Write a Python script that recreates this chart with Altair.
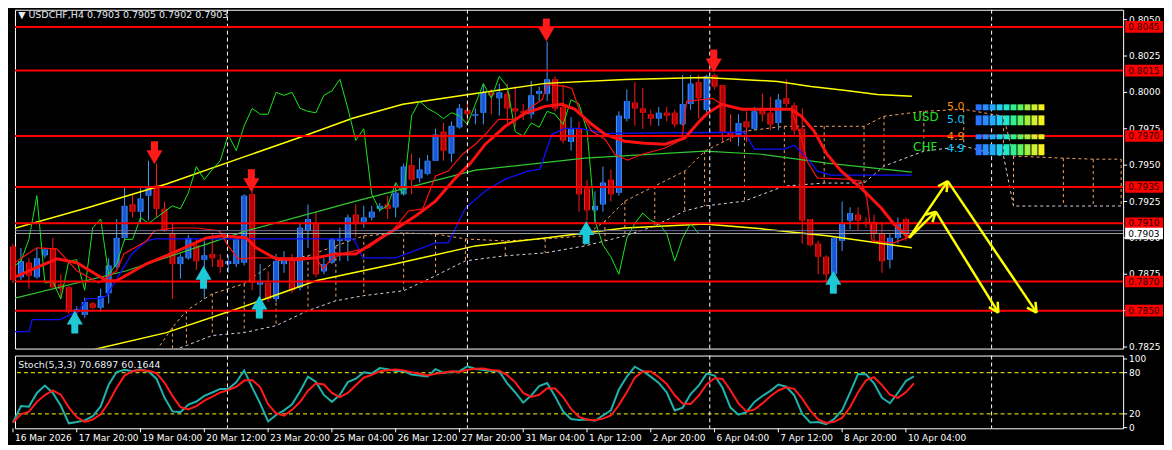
import math
import altair as alt
import pandas as pd

W = 1112
H = 340
HS = 73
X0 = 0.25
XMAX = X0 + W / 8
YTOP = 0.80568
YBOT = YTOP - H / 14600
PX = 1 / 14600          # price per pixel in the main panel
SBOT = -1.0
STOP = 105.0
FONT = "DejaVu Sans"

# ---------------- candles (USDCHF H4) ----------------
opens = [.7894,.7873,.7883,.7873,.7888,.7893,.7868,.7866,.7849,.7847,.7855,.7852,.7862,.7880,.7900,.7923,.7918,.7929,.7936,.7920,
         .7903,.7882,.7886,.7895,.7885,.7889,.7885,.7882,.7882,.7883,.7930,.7868,.7869,.7858,.7882,.7884,.7866,.7905,.7910,.7877,
         .7883,.7898,.7898,.7916,.7911,.7914,.7920,.7923,.7921,.7930,.7950,.7941,.7944,.7953,.7973,.7958,.7976,.7988,.7984,.7986,
         .8000,.7996,.7999,.7989,.7987,.7985,.7999,.7999,.8009,.7990,.7966,.7975,.7934,.7919,.7923,.7940,.7931,.7982,.7993,.7989,
         .7985,.7982,.7986,.7986,.7978,.7992,.8007,.7988,.8012,.8005,.7972,.7971,.7980,.7975,.7988,.7986,.7979,.7996,.7991,.7975,
         .7913,.7896,.7887,.7875,.7898,.7912,.7916,.7911,.7911,.7903,.7885,.7900,.7913,.7903]
highs = [.7896,.7893,.7886,.7893,.7893,.7900,.7875,.7867,.7853,.7859,.7856,.7865,.7886,.7913,.7935,.7930,.7934,.7953,.7951,.7925,
         .7910,.7889,.7902,.7899,.7898,.7903,.7889,.7888,.7900,.7930,.7934,.7882,.7877,.7889,.7891,.7889,.7910,.7923,.7918,.7886,
         .7900,.7907,.7916,.7923,.7922,.7922,.7924,.7929,.7937,.7951,.7958,.7955,.7957,.7975,.7979,.7980,.7992,.7993,.7989,.8006,
         .8002,.8006,.8006,.8004,.7992,.8008,.8004,.8035,.8011,.8005,.7983,.7980,.7940,.7932,.7949,.7947,.7987,.8002,.8007,.8003,
         .7988,.7990,.7990,.7988,.8012,.8012,.8012,.8012,.8013,.8005,.7985,.7985,.7987,.7990,.7999,.7997,.7999,.8009,.7993,.7989,
         .7913,.7898,.7888,.7900,.7925,.7921,.7921,.7914,.7916,.7911,.7903,.7914,.7914,.7905]
lows = [.7869,.7871,.7865,.7872,.7886,.7866,.7859,.7848,.7846,.7845,.7851,.7849,.7855,.7879,.7898,.7914,.7910,.7912,.7914,.7904,
        .7858,.7872,.7885,.7878,.7858,.7880,.7876,.7876,.7880,.7881,.7864,.7857,.7856,.7856,.7876,.7862,.7864,.7893,.7873,.7875,
        .7882,.7884,.7884,.7901,.7907,.7912,.7918,.7913,.7914,.7929,.7930,.7938,.7943,.7953,.7953,.7952,.7975,.7980,.7978,.7978,
        .7985,.7984,.7979,.7976,.7981,.7982,.7994,.7994,.7987,.7965,.7960,.7918,.7912,.7910,.7918,.7925,.7929,.7980,.7977,.7975,
        .7977,.7977,.7980,.7976,.7977,.7988,.7982,.7986,.8002,.7966,.7966,.7963,.7966,.7974,.7980,.7974,.7974,.7990,.7971,.7896,
        .7894,.7875,.7870,.7873,.7891,.7906,.7905,.7907,.7897,.7876,.7879,.7896,.7898,.7902]
closes = [.7871,.7884,.7874,.7886,.7892,.7866,.7865,.7849,.7851,.7856,.7852,.7860,.7881,.7900,.7922,.7918,.7927,.7934,.7920,.7905,
          .7882,.7887,.7900,.7884,.7888,.7886,.7880,.7884,.7899,.7929,.7869,.7870,.7858,.7884,.7885,.7864,.7907,.7913,.7875,.7882,
          .7899,.7899,.7914,.7910,.7914,.7918,.7922,.7920,.7931,.7949,.7940,.7947,.7953,.7971,.7960,.7977,.7989,.7985,.7985,.8000,
          .7998,.8000,.7989,.7987,.7986,.7998,.8001,.8009,.7989,.7967,.7975,.7930,.7919,.7922,.7938,.7930,.7984,.7994,.7989,.7986,
          .7982,.7986,.7984,.7978,.7992,.8006,.7996,.8011,.8004,.7973,.7970,.7979,.7976,.7987,.7985,.7978,.7995,.7992,.7974,.7912,
          .7895,.7887,.7875,.7900,.7910,.7917,.7912,.7910,.7903,.7884,.7900,.7910,.7903,.7903]

# ---------------- indicator lines (bar index, price) ----------------
bb_up_bar = [0, 9.25, 19.25, 29.25, 36.4, 42.6, 48.9, 58, 66.75, 76.75, 86.75, 95.9, 100.1, 104.25, 108.4, 112.75]
bb_up_px = [.79062, .79205, .79370, .79562, .79699, .79822, .79918, .79993, .80062, .80089, .80103, .80075, .80041, .80014, .79986, .79973]
bb_lo_bar = [9.6, 19.25, 29.25, 38, 48, 58, 66.75, 76.75, 86.75, 93.9, 102.1, 112.75]
bb_lo_px = [.78226, .78349, .78534, .78705, .78822, .78945, .79000, .79068, .79096, .79062, .79014, .78932]
mid_bar = [0, 14.25, 29.25, 43, 58, 71.75, 86.75, 93.9, 102.1, 112.75]
mid_px = [.78582, .78774, .79048, .79253, .79466, .79548, .79596, .79575, .79514, .79452]
ma_bar = [0, 5.5, 8, 11.75, 13, 16.75, 20.1, 24.25, 26.4, 29.25, 30.5, 33, 35.5, 38, 40.5, 43, 45.5, 48, 50.5, 53, 55.5,
          57.4, 59.25, 61.75, 64.25, 66.75, 68.9, 70.5, 72.6, 74.25, 76.75, 79.25, 81.75, 84.25, 86.1, 87.1, 88.9, 91.4,
          97.6, 98.9, 100.5, 102.1, 103.9, 106.4, 108.9, 110.5, 112.1, 112.75]
ma_px = [.78726, .78856, .78829, .78705, .78705, .78822, .78897, .79000, .79014, .79000, .78932, .78856, .78849, .78863,
         .78890, .78890, .78979, .79062, .79151, .79253, .79411, .79514, .79644, .79767, .79856, .79904, .79918, .79884,
         .79781, .79712, .79664, .79651, .79644, .79685, .79801, .79856, .79918, .79884, .79884, .79836, .79733, .79575,
         .79459, .79342, .79205, .79096, .79014, .79007]
tenkan_bar = [0, 3, 5.5, 8, 10.75, 13, 13.9, 16.75, 17.75, 20.1, 23, 25.9, 27, 28.25, 30.5, 38, 38.9, 40.1, 41.75, 44.6,
              47.6, 49.6, 51.4, 53, 54.6, 56.4, 58, 59.25, 60.9, 63, 64.25, 66.4, 67, 69.25, 70.1, 71.1, 72.6, 74.25, 75.5,
              77.1, 78.9, 81.75, 83.9, 84.5, 87.75, 88.9, 91.4, 97.6, 98.9, 99.6, 100.9, 104.6, 106.4, 107.1, 107.75,
              110.5, 112.1, 112.75]
tenkan_px = [.78822, .78932, .78925, .78774, .78692, .78774, .78890, .78979, .79048, .79068, .79068, .79048, .78945,
             .78856, .78863, .78863, .78788, .78863, .78897, .78932, .79048, .79185, .79199, .79425, .79459, .79575,
             .79644, .79712, .79815, .79815, .79870, .79952, .80055, .80041, .80027, .79870, .79733, .79678, .79575,
             .79534, .79575, .79616, .79678, .79938, .79959, .79918, .79884, .79884, .79685, .79527, .79411, .79404,
             .79390, .79274, .78979, .78966, .79000, .79014]
kijun_bar = [0, 2, 2.4, 5.9, 8.25, 9.25, 10.9, 11.75, 14.9, 16.75, 17.75, 42.75, 43.9, 48, 53, 54.6, 56.75, 59.25,
             61.75, 64.6, 66.1, 67.6, 69.25, 71.1, 74.25, 91.75, 93, 96.75, 98, 99.6, 100.9, 102.6, 112.75]
kijun_px = [.78356, .78356, .78438, .78438, .78500, .78582, .78582, .78603, .78890, .78979, .78993, .78993, .78863,
            .78863, .78966, .78966, .79205, .79322, .79404, .79459, .79473, .79712, .79753, .79753, .79719, .79726,
            .79610, .79610, .79637, .79548, .79459, .79432, .79432]
cloud_bar = [18, 20, 21.75, 25, 29, 33, 37, 40.5, 44, 49, 53, 56.75, 61.75, 66.75, 71.75, 74.25, 76.75, 80.5, 84.25,
             86.75, 91.75, 96.75, 101.75, 106.75, 109.25, 114.25, 119.25, 124.25, 125.5, 131.75, 135.5, 139]
cloud_top = [.78226, .78384, .78500, .78616, .78685, .78842, .78877, .78945, .79014, .79034, .79027, .78993, .78979,
             .78993, .79014, .79116, .79253, .79356, .79459, .79596, .79733, .79767, .79767, .79767, .79836, .79870,
             .79884, .79836, .79562, .79548, .79541, .79541]
cloud_bot = [.78212, .78226, .78260, .78329, .78349, .78397, .78500, .78568, .78603, .78637, .78740, .78842, .78877,
             .78897, .78945, .78979, .79014, .79082, .79185, .79219, .79253, .79356, .79377, .79377, .79493, .79596,
             .79630, .79562, .79219, .79219, .79219, .79219]

levels = [0.8045, 0.8015, 0.7970, 0.7935, 0.7910, 0.7870, 0.7850]
bid = 0.7903
ask_line = 0.7905
separators = [26.9, 57.0, 87.4, 122.75]
up_arrow_bar = [7.75, 23.9, 30.9, 71.9, 102.9]
up_arrow_px = [0.78418, 0.78726, 0.78521, 0.79034, 0.78692]
dn_arrow_bar = [17.75, 29.9, 66.9, 87.9]
dn_arrow_px = [0.79589, 0.79397, 0.80432, 0.80219]
proj_from_bar = [112.4, 112.4, 117.25, 115.75]
proj_from_px = [0.7900, 0.7900, 0.7939, 0.7918]
proj_to_bar = [115.75, 117.25, 128.4, 123.6]
proj_to_px = [0.7918, 0.7939, 0.78486, 0.78486]

x_tick_bars = [0, 8, 16, 24, 32, 40, 48, 56, 64, 72, 80, 88, 96, 104, 112]
x_tick_labels = ["16 Mar 2026", "17 Mar 20:00", "19 Mar 04:00", "20 Mar 12:00", "23 Mar 20:00", "25 Mar 04:00",
                 "26 Mar 12:00", "27 Mar 20:00", "31 Mar 04:00", "1 Apr 12:00", "2 Apr 20:00", "6 Apr 04:00",
                 "7 Apr 12:00", "8 Apr 20:00", "10 Apr 04:00"]
price_ticks = [0.7825, 0.7850, 0.7875, 0.7900, 0.7925, 0.7950, 0.7975, 0.8000, 0.8025, 0.8050]
stoch_ticks = [0, 20, 80, 100]

strength_names = ["USD", "CHF"]
strength_name_px = [0.79829, 0.79623]
strength_vals = ["5.0", "5.0", "4.9", "4.9"]
strength_val_px = [0.79897, 0.79808, 0.79695, 0.79610]
strength_row_top = [0.79918, 0.79842, 0.79712, 0.79644]
strength_row_bot = [0.79877, 0.79774, 0.79678, 0.79568]
block_colors = ["#2a72ff", "#2a8cff", "#22aaff", "#22d0f0", "#22e8c8", "#30f090", "#60f060", "#a0f040", "#d0f030", "#f4f020"]

# ---------------- derived tables ----------------
candles = pd.DataFrame({"i": list(range(len(opens))), "o": opens, "h": highs, "l": lows, "c": closes})
bull = candles[candles.c >= candles.o].reset_index(drop=True)
bear = candles[candles.c < candles.o].reset_index(drop=True)
chik = pd.DataFrame({"i": list(range(len(closes) - 26)), "p": closes[26:]})
hh = candles.h.rolling(5, min_periods=1).max()
ll = candles.l.rolling(5, min_periods=1).min()
num = (candles.c - ll).rolling(3, min_periods=1).sum()
den = (hh - ll).rolling(3, min_periods=1).sum()
kk = 100 * num / den
dd = kk.rolling(3, min_periods=1).mean()
stoch_df = pd.DataFrame({"i": list(range(len(closes))), "K": [round(float(v), 3) for v in kk],
                         "D": [round(float(v), 3) for v in dd]})

xs = alt.Scale(domain=[X0, XMAX], nice=False, zero=False)
ys = alt.Scale(domain=[YBOT, YTOP], nice=False, zero=False)
ss = alt.Scale(domain=[SBOT, STOP], nice=False, zero=False)


def X(f):
    return alt.X(f, type="quantitative", scale=xs, axis=None)


def Y(f):
    return alt.Y(f, type="quantitative", scale=ys, axis=None)


def SY(f):
    return alt.Y(f, type="quantitative", scale=ss, axis=None)


def line(bars, prices, color, width, dash=None):
    df = pd.DataFrame({"i": bars, "p": prices})
    kw = dict(color=color, strokeWidth=width, clip=True)
    if dash:
        kw["strokeDash"] = dash
    return alt.Chart(df).mark_line(**kw).encode(x=X("i"), y=Y("p"))


def txt(chart_df, **kw):
    return alt.Chart(chart_df).mark_text(font=FONT, **kw)


layers = []
# Ichimoku cloud
layers.append(line(cloud_bar, cloud_top, "#f4a460", 1, [3, 3]))
layers.append(line(cloud_bar, cloud_bot, "#d8d0e0", 1, [3, 3]))
cloud_df = pd.DataFrame({"i": cloud_bar, "t": cloud_top, "b": cloud_bot})
layers.append(alt.Chart(cloud_df).mark_rule(color="#f4a460", strokeDash=[3, 3], strokeWidth=1, clip=True).encode(
    x=X("i"), y=Y("t"), y2=alt.Y2("b")))

# candles
for df, edge, fill in [(bull, "#3f9bff", "#1a56d6"), (bear, "#ff1a1a", "#b00000")]:
    layers.append(alt.Chart(df).mark_rule(strokeWidth=1, color=edge).encode(x=X("i"), y=Y("l"), y2=alt.Y2("h")))
    layers.append(alt.Chart(df).mark_rule(strokeWidth=6, color=edge).encode(x=X("i"), y=Y("o"), y2=alt.Y2("c")))
    layers.append(alt.Chart(df).mark_rule(strokeWidth=4, color=fill).encode(x=X("i"), y=Y("o"), y2=alt.Y2("c")))

layers.append(line(bb_up_bar, bb_up_px, "#ffff00", 1.5))
layers.append(line(bb_lo_bar, bb_lo_px, "#ffff00", 1.5))
layers.append(line(mid_bar, mid_px, "#32c832", 1.2))
layers.append(alt.Chart(chik).mark_line(color="#19e619", strokeWidth=1, clip=True).encode(x=X("i"), y=Y("p")))
layers.append(line(kijun_bar, kijun_px, "#1010ff", 1.3))
layers.append(line(tenkan_bar, tenkan_px, "#ff1010", 1.2))
layers.append(line(ma_bar, ma_px, "#ff1010", 3))

sep_df = pd.DataFrame({"s": separators})
layers.append(alt.Chart(sep_df).mark_rule(color="white", strokeDash=[4, 3], strokeWidth=1).encode(x=X("s")))
layers.append(alt.Chart(pd.DataFrame({"p": [ask_line]})).mark_rule(strokeWidth=1, color="#6a6a9a").encode(y=Y("p")))
layers.append(alt.Chart(pd.DataFrame({"p": [bid]})).mark_rule(strokeWidth=1, color="#a0a0a0").encode(y=Y("p")))
lv_df = pd.DataFrame({"lvl": levels})
layers.append(alt.Chart(lv_df).mark_rule(color="#ff0000", strokeWidth=2).encode(y=Y("lvl")))

# currency-strength widget
for b in range(10):
    bl = pd.DataFrame({"i": [120.75 + 0.875 * b] * 4, "i2": [120.75 + 0.875 * b + 0.75] * 4,
                       "t": strength_row_top, "b": strength_row_bot})
    layers.append(alt.Chart(bl).mark_rect(color=block_colors[b]).encode(x=X("i"), x2=alt.X2("i2"), y=Y("t"),
                                                                         y2=alt.Y2("b")))
for k, col in [(0, "#ff8c00"), (1, "#00c8ff")]:
    vd = pd.DataFrame({"i": [118.25, 118.25], "p": strength_val_px[k::2], "t": strength_vals[k::2]})
    layers.append(txt(vd, fontSize=11, align="center", baseline="middle", color=col).encode(
        x=X("i"), y=Y("p"), text=alt.Text("t:N")))
name_df = pd.DataFrame({"i": [112.9, 112.9], "p": strength_name_px, "t": strength_names})
layers.append(txt(name_df, fontSize=12, color="#20e020", align="left", baseline="middle").encode(
    x=X("i"), y=Y("p"), text=alt.Text("t:N")))

# signal arrows: triangular head + thick shaft
up_df = pd.DataFrame({"i": up_arrow_bar, "head": [p + 5 * PX for p in up_arrow_px],
                      "s1": [p + 1 * PX for p in up_arrow_px], "s2": [p - 11 * PX for p in up_arrow_px]})
dn_df = pd.DataFrame({"i": dn_arrow_bar, "head": [p - 5 * PX for p in dn_arrow_px],
                      "s1": [p - 1 * PX for p in dn_arrow_px], "s2": [p + 11 * PX for p in dn_arrow_px]})
for df, shape, col in [(up_df, "triangle-up", "#1ec8d4"), (dn_df, "triangle-down", "#ff1a1a")]:
    layers.append(alt.Chart(df).mark_rule(strokeWidth=7, color=col).encode(x=X("i"), y=Y("s1"), y2=alt.Y2("s2")))
    layers.append(alt.Chart(df).mark_point(shape=shape, filled=True, size=260, color=col, opacity=1).encode(
        x=X("i"), y=Y("head")))

# projected path (yellow arrows)
for k in range(len(proj_from_bar)):
    sd = pd.DataFrame({"i": [proj_from_bar[k], proj_to_bar[k]], "p": [proj_from_px[k], proj_to_px[k]]})
    layers.append(alt.Chart(sd).mark_line(color="#ffff00", strokeWidth=2.5).encode(x=X("i"), y=Y("p")))
    dxp = (proj_to_bar[k] - proj_from_bar[k]) * 8
    dyp = -(proj_to_px[k] - proj_from_px[k]) / PX
    ln = math.hypot(dxp, dyp)
    ux, uy = dxp / ln, dyp / ln
    for sgn in (1, -1):
        a = math.radians(28) * sgn
        wx = -(ux * math.cos(a) - uy * math.sin(a)) * 11
        wy = -(ux * math.sin(a) + uy * math.cos(a)) * 11
        wd = pd.DataFrame({"i": [proj_to_bar[k], proj_to_bar[k] + wx / 8],
                           "p": [proj_to_px[k], proj_to_px[k] - wy * PX]})
        layers.append(alt.Chart(wd).mark_line(color="#ffff00", strokeWidth=2.5).encode(x=X("i"), y=Y("p")))

# right-hand price scale (ticks, labels, tags) drawn beyond the last bar
tick_df = pd.DataFrame({"p": price_ticks, "x1": [XMAX] * len(price_ticks), "x2": [XMAX + 0.5] * len(price_ticks),
                        "xl": [XMAX + 0.75] * len(price_ticks)})
layers.append(alt.Chart(tick_df).mark_rule(color="white").encode(x=X("x1"), x2=alt.X2("x2"), y=Y("p")))
layers.append(txt(tick_df, fontSize=9, color="white", align="left", baseline="middle").encode(
    x=X("xl"), y=Y("p"), text=alt.Text("p:Q", format=".4f")))
tag_l = XMAX + 0.25
tag_r = XMAX + 5.0
tag_c = XMAX + 2.6
box_df = pd.DataFrame({"lvl": levels, "lo": [v - 0.0004 for v in levels], "hi": [v + 0.0004 for v in levels],
                       "x1": [tag_l] * len(levels), "x2": [tag_r] * len(levels), "xc": [tag_c] * len(levels)})
layers.append(alt.Chart(box_df).mark_rect(color="#ff0000").encode(
    x=X("x1"), x2=alt.X2("x2"), y=Y("lo"), y2=alt.Y2("hi")))
layers.append(txt(box_df, fontSize=9, color="#2a0000", align="center", baseline="middle").encode(
    x=X("xc"), y=Y("lvl"), text=alt.Text("lvl:Q", format=".4f")))
bid_df = pd.DataFrame({"lvl": [bid], "lo": [bid - 0.0004], "hi": [bid + 0.0004], "x1": [tag_l], "x2": [tag_r],
                       "xc": [tag_c]})
layers.append(alt.Chart(bid_df).mark_rect(color="white").encode(
    x=X("x1"), x2=alt.X2("x2"), y=Y("lo"), y2=alt.Y2("hi")))
layers.append(txt(bid_df, fontSize=9, color="black", align="center", baseline="middle").encode(
    x=X("xc"), y=Y("lvl"), text=alt.Text("lvl:Q", format=".4f")))
title_df = pd.DataFrame({"i": [X0 + 0.4], "p": [YTOP - 5 * PX],
                         "t": ["\u25BC USDCHF,H4  0.7903 0.7905 0.7902 0.7903"]})
layers.append(txt(title_df, fontSize=9.5, color="#e8ecf4", align="left", baseline="middle").encode(
    x=X("i"), y=Y("p"), text=alt.Text("t:N")))

main = alt.layer(*layers).properties(width=W, height=H)

# ---------------- stochastic ----------------
SPX = (STOP - SBOT) / HS
slayers = []
slayers.append(alt.Chart(pd.DataFrame({"v": [20, 80]})).mark_rule(color="#ffff00", strokeDash=[4, 3]).encode(
    y=SY("v")))
slayers.append(alt.Chart(sep_df).mark_rule(color="white", strokeDash=[4, 3]).encode(x=X("s")))
slayers.append(alt.Chart(stoch_df).mark_line(color="#20b2aa", strokeWidth=2).encode(x=X("i"), y=SY("K")))
slayers.append(alt.Chart(stoch_df).mark_line(color="#ff1a1a", strokeWidth=2).encode(x=X("i"), y=SY("D")))
st_df = pd.DataFrame({"i": [X0 + 0.4], "v": [STOP - 9 * SPX], "t": ["Stoch(5,3,3) 70.6897 60.1644"]})
slayers.append(txt(st_df, fontSize=9.5, color="#e8ecf4", align="left", baseline="middle").encode(
    x=X("i"), y=SY("v"), text=alt.Text("t:N")))
stick_df = pd.DataFrame({"v": stoch_ticks, "x1": [XMAX] * 4, "x2": [XMAX + 0.5] * 4, "xl": [XMAX + 0.75] * 4})
slayers.append(alt.Chart(stick_df).mark_rule(color="white").encode(x=X("x1"), x2=alt.X2("x2"), y=SY("v")))
slayers.append(txt(stick_df, fontSize=9, color="white", align="left", baseline="middle").encode(
    x=X("xl"), y=SY("v"), text=alt.Text("v:Q", format="d")))
xt_df = pd.DataFrame({"i": x_tick_bars, "lab": x_tick_labels, "y1": [SBOT] * len(x_tick_bars),
                      "y2": [SBOT - 4 * SPX] * len(x_tick_bars), "yl": [SBOT - 10 * SPX] * len(x_tick_bars)})
slayers.append(alt.Chart(xt_df).mark_rule(color="white").encode(x=X("i"), y=SY("y1"), y2=alt.Y2("y2")))
slayers.append(txt(xt_df, fontSize=9, color="white", align="left", baseline="middle", dx=2).encode(
    x=X("i"), y=SY("yl"), text=alt.Text("lab:N")))
stoch = alt.layer(*slayers).properties(width=W, height=HS)

chart = alt.vconcat(main, stoch, spacing=1).properties(padding=0).configure(background="black").configure_view(
    stroke="white", strokeWidth=1)

chart.save("out.html", embed_options={"renderer": "svg", "actions": False})
